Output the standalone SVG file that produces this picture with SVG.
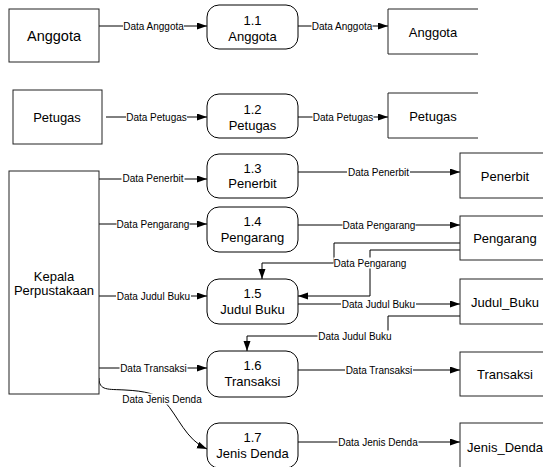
<svg xmlns="http://www.w3.org/2000/svg" width="543" height="467" viewBox="0 0 543 467">
  <defs>
    <marker id="arrow" markerUnits="userSpaceOnUse" markerWidth="11" markerHeight="8" refX="10" refY="3.5" orient="auto">
      <path d="M0,0 L10,3.5 L0,7 z" fill="#000"/>
    </marker>
    <style>
      .ent { fill: #fff; stroke: #222; stroke-width: 1; }
      .store { fill: none; stroke: #222; stroke-width: 1; }
      .proc { fill: #fff; stroke: #000; stroke-width: 1; }
      .t { font-family: "Liberation Sans", Arial, sans-serif; font-size: 13px; fill: #000; text-anchor: middle; }
      .big { font-size: 14.5px; }
      .flow { fill: none; stroke: #000; stroke-width: 1; marker-end: url(#arrow); }
      .line { fill: none; stroke: #000; stroke-width: 1; }
      .lbl { font-family: "Liberation Sans", Arial, sans-serif; font-size: 10px; fill: #000; text-anchor: middle; }
      .lblbg { fill: #fff; }
    </style>
  </defs>
  <rect width="543" height="467" fill="#fff"/>

  <!-- connectors -->
  <g id="connectors">
    <path class="flow" d="M99,26 H207"/>
    <path class="flow" d="M298,26 H388"/>
    <path class="flow" d="M106,117 H207"/>
    <path class="flow" d="M298,117 H388"/>
    <path class="flow" d="M99,179 H207"/>
    <path class="flow" d="M298,172 H460"/>
    <path class="flow" d="M99,224 H207"/>
    <path class="flow" d="M298,225 H460"/>
    <path class="flow" d="M460,243 H334 V263 H262 V279"/>
    <path class="flow" d="M460,250 H370 V296 H298"/>
    <path class="flow" d="M99,296 H207"/>
    <path class="flow" d="M298,304 H460"/>
    <path class="flow" d="M460,316 H388 V336 H247 V351"/>
    <path class="flow" d="M99,368 H207"/>
    <path class="flow" d="M298,370 H460"/>
    <path class="flow" d="M99,378 C99,391 108,389 125,390 C145,391 158,394 165,402 C178,416 186,440 207,449"/>
    <path class="flow" d="M298,442 H460"/>

    <!-- flow labels -->
    <rect class="lblbg" x="123" y="20.5" width="61" height="11"/>
    <text class="lbl" x="153.5" y="29.5">Data Anggota</text>
    <rect class="lblbg" x="311.5" y="20.5" width="61" height="11"/>
    <text class="lbl" x="342" y="29.5">Data Anggota</text>
    <rect class="lblbg" x="126" y="111.5" width="61" height="11"/>
    <text class="lbl" x="156.5" y="120.5">Data Petugas</text>
    <rect class="lblbg" x="312.5" y="111.5" width="61" height="11"/>
    <text class="lbl" x="343" y="120.5">Data Petugas</text>
    <rect class="lblbg" x="121.5" y="172.5" width="63" height="11"/>
    <text class="lbl" x="153" y="181.5">Data Penerbit</text>
    <rect class="lblbg" x="347" y="166.5" width="63" height="11"/>
    <text class="lbl" x="378.5" y="175.5">Data Penerbit</text>
    <rect class="lblbg" x="116.5" y="218.5" width="73" height="11"/>
    <text class="lbl" x="153" y="227.5">Data Pengarang</text>
    <rect class="lblbg" x="342.5" y="219.5" width="73" height="11"/>
    <text class="lbl" x="379" y="228.5">Data Pengarang</text>
    <rect class="lblbg" x="333.5" y="257.5" width="73" height="11"/>
    <text class="lbl" x="370" y="266.5">Data Pengarang</text>
    <rect class="lblbg" x="116" y="290.5" width="75" height="11"/>
    <text class="lbl" x="153.5" y="299.5">Data Judul Buku</text>
    <rect class="lblbg" x="341" y="298.5" width="75" height="11"/>
    <text class="lbl" x="378.5" y="307.5">Data Judul Buku</text>
    <rect class="lblbg" x="317.5" y="330.5" width="75" height="11"/>
    <text class="lbl" x="355" y="339.5">Data Judul Buku</text>
    <rect class="lblbg" x="119.5" y="362.5" width="68" height="11"/>
    <text class="lbl" x="153.5" y="371.5">Data Transaksi</text>
    <rect class="lblbg" x="345" y="364.5" width="68" height="11"/>
    <text class="lbl" x="379" y="373.5">Data Transaksi</text>
    <rect class="lblbg" x="121.5" y="393.5" width="81" height="11"/>
    <text class="lbl" x="162" y="402.5">Data Jenis Denda</text>
    <rect class="lblbg" x="337.5" y="436.5" width="81" height="11"/>
    <text class="lbl" x="378" y="445.5">Data Jenis Denda</text>
  </g>

  <!-- external entities -->
  <g id="ent-anggota">
    <rect class="ent" x="9" y="9" width="90" height="53"/>
    <text class="t big" x="54" y="41">Anggota</text>
  </g>
  <g id="ent-petugas">
    <rect class="ent" x="13" y="90" width="89" height="54"/>
    <text class="t" x="57" y="121.5">Petugas</text>
  </g>
  <g id="ent-kepala">
    <rect class="ent" x="9" y="171" width="90" height="223"/>
    <text class="t" x="54" y="280.5">Kepala</text>
    <text class="t" x="54" y="295">Perpustakaan</text>
  </g>

  <!-- processes -->
  <g id="proc-1-1">
    <rect class="proc" x="207" y="5" width="91" height="44" rx="12"/>
    <text class="t" x="252.5" y="24.5">1.1</text>
    <text class="t" x="252.5" y="40.5">Anggota</text>
  </g>
  <g id="proc-1-2">
    <rect class="proc" x="207" y="94" width="91" height="44" rx="12"/>
    <text class="t" x="252.5" y="113.5">1.2</text>
    <text class="t" x="252.5" y="129.5">Petugas</text>
  </g>
  <g id="proc-1-3">
    <rect class="proc" x="207" y="154" width="91" height="44" rx="12"/>
    <text class="t" x="252.5" y="172.5">1.3</text>
    <text class="t" x="252.5" y="188">Penerbit</text>
  </g>
  <g id="proc-1-4">
    <rect class="proc" x="207" y="207" width="91" height="45" rx="12"/>
    <text class="t" x="252.5" y="225.5">1.4</text>
    <text class="t" x="252.5" y="241.5">Pengarang</text>
  </g>
  <g id="proc-1-5">
    <rect class="proc" x="207" y="279" width="91" height="45" rx="12"/>
    <text class="t" x="252.5" y="297.5">1.5</text>
    <text class="t" x="252.5" y="313.5">Judul Buku</text>
  </g>
  <g id="proc-1-6">
    <rect class="proc" x="207" y="351" width="91" height="46" rx="12"/>
    <text class="t" x="252.5" y="370">1.6</text>
    <text class="t" x="252.5" y="386">Transaksi</text>
  </g>
  <g id="proc-1-7">
    <rect class="proc" x="207" y="423" width="91" height="45" rx="12"/>
    <text class="t" x="252.5" y="441.5">1.7</text>
    <text class="t" x="252.5" y="458">Jenis Denda</text>
  </g>

  <!-- data stores -->
  <g id="store-anggota">
    <path class="store" d="M478,9 H388 V54 H478"/>
    <text class="t" x="433" y="36.5">Anggota</text>
  </g>
  <g id="store-petugas">
    <path class="store" d="M478,93 H388 V138 H478"/>
    <text class="t" x="433" y="120.5">Petugas</text>
  </g>
  <g id="store-penerbit">
    <rect class="ent" x="460" y="153" width="95" height="45"/>
    <text class="t" x="505" y="180.5">Penerbit</text>
  </g>
  <g id="store-pengarang">
    <rect class="ent" x="460" y="216" width="95" height="44"/>
    <text class="t" x="505" y="243">Pengarang</text>
  </g>
  <g id="store-judul-buku">
    <rect class="ent" x="460" y="279" width="95" height="45"/>
    <text class="t" x="505" y="306.5">Judul_Buku</text>
  </g>
  <g id="store-transaksi">
    <rect class="ent" x="460" y="352" width="95" height="44"/>
    <text class="t" x="505" y="378.5">Transaksi</text>
  </g>
  <g id="store-jenis-denda">
    <rect class="ent" x="460" y="423" width="95" height="60"/>
    <text class="t" x="505" y="451.5">Jenis_Denda</text>
  </g>
</svg>
